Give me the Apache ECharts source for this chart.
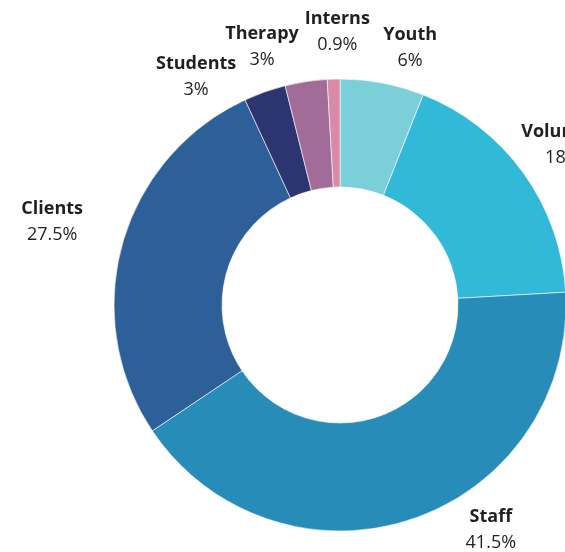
<!DOCTYPE html>
<html>
<head>
<meta charset="utf-8">
<script src="https://cdn.jsdelivr.net/npm/echarts@6/dist/echarts.min.js"></script>
<style>
html,body{margin:0;padding:0;background:#fff;}
#chart{width:565px;height:552px;}
</style>
</head>
<body>
<div id="chart"></div>
<script>
// Data
var categories = ['Youth', 'Volunteers', 'Staff', 'Clients', 'Students', 'Therapy', 'Interns'];
var values = [6, 18.1, 41.5, 27.5, 3, 3, 0.9];

// Styles (kept apart from data)
var colors = ['#7bcfd9', '#33b9d8', '#288cb8', '#2d5f99', '#2c356f', '#a26c98', '#d88aa6'];
var labelOffsets = {
  'Youth': [19, 11],
  'Volunteers': [9, 0],
  'Staff': [64, -34],
  'Clients': [-25, -9],
  'Students': [-53, 29],
  'Therapy': [-37, 12],
  'Interns': [5, 0]
};

var chart = echarts.init(document.getElementById('chart'), null, {renderer: 'canvas'});

var mainData = categories.map(function (c, i) {
  return {name: c, value: values[i], itemStyle: {color: colors[i]}};
});
var labelData = categories.map(function (c, i) {
  return {name: c, value: values[i], label: {offset: labelOffsets[c]}};
});

var fontFamily = '"Open Sans", "Noto Sans", sans-serif';

chart.setOption({
  animation: false,
  series: [
    {
      type: 'pie',
      center: [340, 305],
      radius: [118, 226],
      startAngle: 90,
      clockwise: true,
      silent: true,
      label: {show: false},
      labelLine: {show: false},
      itemStyle: {borderColor: '#ffffff', borderWidth: 0.6},
      data: mainData
    },
    {
      type: 'pie',
      center: [340, 305],
      radius: [250, 290],
      startAngle: 90,
      clockwise: true,
      silent: true,
      avoidLabelOverlap: false,
      labelLayout: {hideOverlap: false},
      itemStyle: {color: 'transparent'},
      labelLine: {show: false},
      label: {
        show: true,
        position: 'inside',
        formatter: '{n|{b}}\n{p|{c}%}',
        rich: {
          n: {fontFamily: fontFamily, fontSize: 18, fontWeight: 'bold', color: '#231f20', lineHeight: 26, align: 'center'},
          p: {fontFamily: fontFamily, fontSize: 18, fontWeight: 'normal', color: '#231f20', lineHeight: 26, align: 'center'}
        }
      },
      data: labelData
    }
  ]
});
</script>
</body>
</html>
